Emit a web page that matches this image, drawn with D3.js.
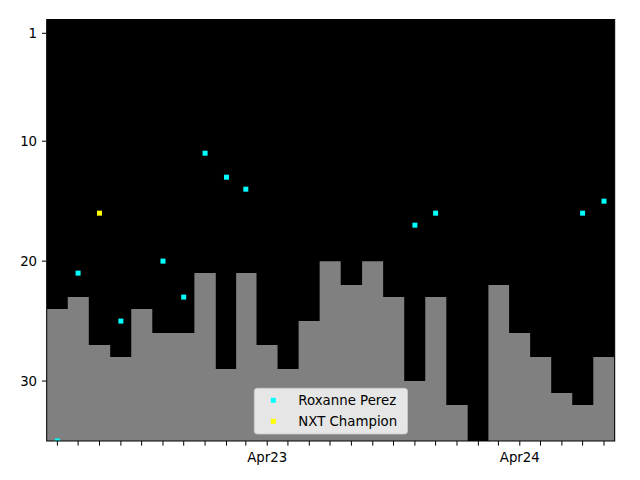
<!DOCTYPE html>
<html>
<head>
<meta charset="utf-8">
<script src="https://cdn.jsdelivr.net/npm/d3@7"></script>
<style>
  body { margin: 0; background: #fff; }
  text { font-family: "DejaVu Sans", sans-serif; font-size: 13.33px; fill: #000; }
</style>
</head>
<body>
<svg id="chart" width="640" height="480"></svg>
<script>
// ---- data ----
const months = ["2022-06","2022-07","2022-08","2022-09","2022-10","2022-11","2022-12",
  "2023-01","2023-02","2023-03","2023-04","2023-05","2023-06","2023-07","2023-08",
  "2023-09","2023-10","2023-11","2023-12","2024-01","2024-02","2024-03","2024-04",
  "2024-05","2024-06","2024-07","2024-08"];
const barRanks = [24,23,27,28,24,26,26,21,29,21,27,29,25,20,22,20,23,30,23,32,null,22,26,28,31,32,28];
const perezMonths = ["2022-06","2022-07","2022-09","2022-11","2022-12","2023-01","2023-02","2023-03","2023-11","2023-12","2024-07","2024-08"];
const perezRanks  = [35,21,25,20,23,11,13,14,17,16,16,15];
const champMonths = ["2022-08"];
const champRanks  = [16];
const yTicks = [1,10,20,30];
const seriesNames = ["Roxanne Perez","NXT Champion"];
const seriesColors = ["#00ffff","#ffff00"];

// ---- layout ----
const W = 640, H = 480;
const L = 46.7, R = 614.7, T = 19.5, B = 441;
const parse = d3.timeParse("%Y-%m");
const DAY = 864e5;

const svg = d3.select("#chart");
svg.append("rect").attr("width", W).attr("height", H).attr("fill", "#fff");

const first = parse(months[0]), last = parse(months[months.length-1]);
const x = d3.scaleTime()
  .domain([new Date(+first - 15.5*DAY), new Date(+last + 15.5*DAY)])
  .range([L, R]);
const y = d3.scaleLinear().domain([35, -0.15]).range([B, T]);

svg.append("defs").append("clipPath").attr("id","clip")
  .append("rect").attr("x", L).attr("y", T).attr("width", R-L).attr("height", B-T);

// plot background
svg.append("rect").attr("x", L).attr("y", T).attr("width", R-L).attr("height", B-T)
  .attr("fill", "#000");

// bars as step area
const dates = months.map(parse);
const edges = dates.map((d, i) => {
  const lo = i === 0 ? new Date(+d - 15.5*DAY) : new Date((+dates[i-1] + +d)/2);
  const hi = i === dates.length-1 ? new Date(+d + 15.5*DAY) : new Date((+d + +dates[i+1])/2);
  return [lo, hi];
});
const stepPts = [];
barRanks.forEach((v, i) => {
  stepPts.push({x: edges[i][0], v});
  stepPts.push({x: edges[i][1], v});
});
const area = d3.area()
  .defined(d => d.v != null)
  .x(d => x(d.x))
  .y0(y(35))
  .y1(d => y(d.v));
const g = svg.append("g").attr("clip-path", "url(#clip)");
g.append("path").datum(stepPts).attr("d", area).attr("fill", "#808080");

// points
const ms = 5;
function drawPts(mo, rk, color) {
  g.selectAll(null).data(mo.map((m, i) => ({d: parse(m), v: rk[i]})))
    .enter().append("rect")
    .attr("x", d => x(d.d) - ms/2).attr("y", d => y(d.v) - ms/2)
    .attr("width", ms).attr("height", ms).attr("fill", color);
}
drawPts(perezMonths, perezRanks, seriesColors[0]);
drawPts(champMonths, champRanks, seriesColors[1]);

// frame
svg.append("rect").attr("x", L).attr("y", T).attr("width", R-L).attr("height", B-T)
  .attr("fill", "none").attr("stroke", "#000").attr("stroke-width", 1);

// y axis
const yAxis = svg.append("g");
yTicks.forEach(t => {
  yAxis.append("line").attr("x1", L - 4.67).attr("x2", L).attr("y1", y(t)).attr("y2", y(t))
    .attr("stroke", "#000").attr("stroke-width", 1);
  yAxis.append("text").attr("x", L - 9.6).attr("y", y(t)).attr("dy", "0.36em")
    .attr("text-anchor", "end").text(t);
});

// x axis
const xTicks = x.ticks(d3.timeMonth.every(1)).filter(d => d >= x.domain()[0] && d <= x.domain()[1]);
const fmt = d3.timeFormat("%b%y");
const xAxis = svg.append("g");
xTicks.forEach(t => {
  xAxis.append("line").attr("x1", x(t)).attr("x2", x(t)).attr("y1", B).attr("y2", B + 4.67)
    .attr("stroke", "#000").attr("stroke-width", 1);
  if (t.getMonth() === 3) {
    xAxis.append("text").attr("x", x(t)).attr("y", 462)
      .attr("text-anchor", "middle").text(fmt(t));
  }
});

// legend
const lg = svg.append("g");
lg.append("rect").attr("x", 254.3).attr("y", 388.3).attr("width", 153.2).attr("height", 45.7)
  .attr("rx", 3).attr("fill", "#fff").attr("fill-opacity", 0.8)
  .attr("stroke", "#ccc").attr("stroke-opacity", 0.8).attr("stroke-width", 1);
seriesNames.forEach((name, i) => {
  const cy = 400.3 + i * 21;
  lg.append("rect").attr("x", 273.3 - ms/2).attr("y", cy - ms/2).attr("width", ms).attr("height", ms)
    .attr("fill", seriesColors[i]);
  lg.append("text").attr("x", 298.3).attr("y", cy + 4.8).text(name);
});
</script>
</body>
</html>
